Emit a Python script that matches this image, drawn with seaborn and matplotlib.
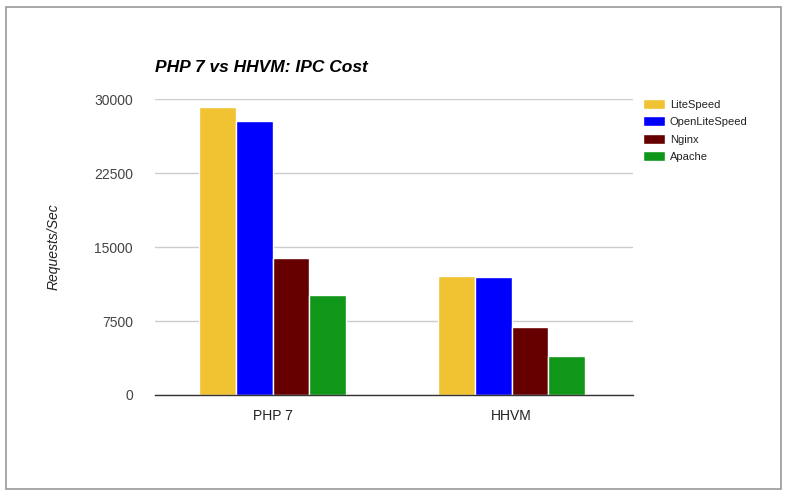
import pandas as pd
import matplotlib.pyplot as plt
import seaborn as sns

# data
groups = ['PHP 7', 'HHVM']
servers = ['LiteSpeed', 'OpenLiteSpeed', 'Nginx', 'Apache']
litespeed = [29200, 12100]
openlitespeed = [27800, 12000]
nginx = [13900, 6900]
apache = [10100, 4000]
colors = ['#f1c232', '#0000ff', '#660000', '#109618']
yticks = [0, 7500, 15000, 22500, 30000]

rows = []
for s, vals in zip(servers, [litespeed, openlitespeed, nginx, apache]):
    for g, v in zip(groups, vals):
        rows.append({'group': g, 'server': s, 'value': v})
df = pd.DataFrame(rows)

sns.set_style('white')
plt.rcParams['font.family'] = ['Liberation Sans', 'DejaVu Sans']

fig = plt.figure(figsize=(7.88, 4.96), dpi=100)
W, H = 788, 496
ax = fig.add_axes([155 / W, (H - 395) / H, (633 - 155) / W, (395 - 99.3) / H])

sns.barplot(data=df, x='group', y='value', hue='server', order=groups,
            hue_order=servers, palette=colors, width=0.615, gap=0.0,
            edgecolor='white', linewidth=1, saturation=1, ax=ax, errorbar=None)

ax.set_xlim(-0.492, 1.508)
ax.set_ylim(0, 30000)
ax.set_yticks(yticks)
ax.set_yticklabels([str(t) for t in yticks])
ax.yaxis.grid(True, color='#cccccc', linewidth=1)
ax.set_axisbelow(True)
for side in ['top', 'right', 'left']:
    ax.spines[side].set_visible(False)
ax.spines['bottom'].set_color('#333333')
ax.spines['bottom'].set_linewidth(1)
ax.tick_params(axis='both', length=0, labelsize=10, colors='#444444')
ax.tick_params(axis='y', pad=16)
ax.tick_params(axis='x', pad=10, labelcolor='#222222')
ax.set_xlabel('')
ax.set_ylabel('')

leg = ax.legend(loc='upper left', bbox_to_anchor=(643 / W, 1 - 99 / H),
                bbox_transform=fig.transFigure, frameon=False, fontsize=8,
                handlelength=2.0, handleheight=1.0, handletextpad=0.4,
                labelspacing=0.6, borderaxespad=0, borderpad=0)
for t in leg.get_texts():
    t.set_color('#222222')

fig.text(155 / W, 1 - 68 / H, 'PHP 7 vs HHVM: IPC Cost', fontsize=12.5,
         fontweight='bold', fontstyle='italic', va='center', ha='left',
         color='black')
fig.text(54 / W, 1 - 247 / H, 'Requests/Sec', fontsize=10, fontstyle='italic',
         rotation=90, va='center', ha='center', color='#222222')

fig.add_artist(plt.Rectangle((5.5 / W, 1 - 488.5 / H), (781 - 5.5) / W, (488.5 - 7) / H,
                             transform=fig.transFigure, fill=False,
                             edgecolor='#999999', linewidth=1.2))

fig.savefig('out.png', dpi=100)
